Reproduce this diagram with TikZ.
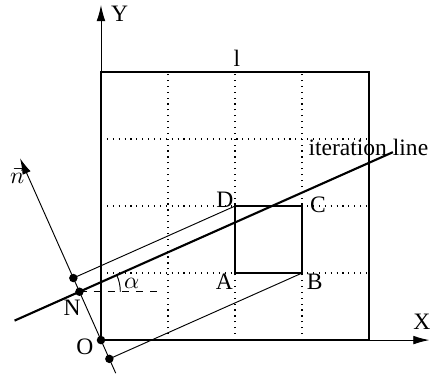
\documentclass[tikz,border=0pt]{standalone}
\usepackage{fontspec}
\setmainfont{Liberation Serif}
\usetikzlibrary{arrows.meta, positioning, calc}

\begin{document}
\begin{tikzpicture}[
                font=\fontsize{10}{12}\selectfont,
                axis/.style={-{Latex[length=2.4mm,width=1.3mm]}, line width=0.4pt},
                gridline/.style={dotted, line width=0.5pt},
                frame/.style={line width=0.9pt},
                blob/.style={circle, fill, inner sep=0pt, minimum size=3.6pt},
                label/.style={inner sep=1pt}]
            \useasboundingbox (-1.507,-0.552) rectangle (4.925,5.075);

            % Cellules
            \foreach \i in {1,2,3} {
                \draw[gridline] (\i,0) -- (\i,4);
                \draw[gridline] (0,\i) -- (4,\i);
            }
            \draw[frame] (0,0) rectangle (4,4);

            % Axes
            \coordinate (O) at (0,0);
            \coordinate (yend) at (0,5.0);
            \coordinate (xend) at (4.9,0);
            \draw[axis] (O) -- (yend);
            \draw[axis] (O) -- (xend);

            % Cellule ABCD
            \coordinate (A) at (2,1);
            \coordinate (B) at (3,1);
            \coordinate (C) at (3,2);
            \coordinate (D) at (2,2);
            \draw[line width=0.5pt] (A) -- (B) -- (C) -- (D) -- cycle;

            % Normale
            \coordinate (nbot) at (294:0.54);
            \coordinate (ntip) at (114:2.97);
            \draw[axis] (nbot) -- (ntip);
            \coordinate (Dp) at ($(O)!(D)!(ntip)$);
            \coordinate (Bp) at ($(O)!(B)!(ntip)$);
            \coordinate (N) at (114:0.79);

            % Projections
            \draw (Dp) -- (D);
            \draw (Bp) -- (B);

            % Ligne d'iteration
            \coordinate (lleft) at ($(N)+(204:1.06)$);
            \coordinate (lright) at ($(N)+(24:5.12)$);
            \draw[frame] (lleft) -- (lright);

            % Angle
            \draw[dashed] (N) -- ++(1.2,0) coordinate (hend);
            \draw (N) ++(0.61,0) arc[start angle=0, end angle=24, radius=0.61];

            % Points
            \node[blob] (pO) at (O) {};
            \node[blob] (pN) at (N) {};
            \node[blob] (pD) at (Dp) {};
            \node[blob] (pB) at (Bp) {};

            % Etiquettes
            \node[label] (ylab) at (0.28,4.87) {Y};
            \node[label] (xlab) at (4.79,0.27) {X};
            \node[label] (side) at (2.03,4.2) {l};
            \node[label] (itlab) at (3.99,2.87) {iteration line};
            \node[label] (nlab) at (-1.25,2.46) {$\vec{n}$};
            \node[label] (alab) at (0.46,0.85) {$\alpha$};
            \node[label] (Nlab) at (-0.43,0.48) {N};
            \node[label] (Olab) at (-0.24,-0.1) {O};
            \node[label] (Alab) at (1.84,0.87) {A};
            \node[label] (Blab) at (3.19,0.87) {B};
            \node[label] (Clab) at (3.24,2.02) {C};
            \node[label] (Dlab) at (1.85,2.1) {D};

        \end{tikzpicture}
\end{document}
